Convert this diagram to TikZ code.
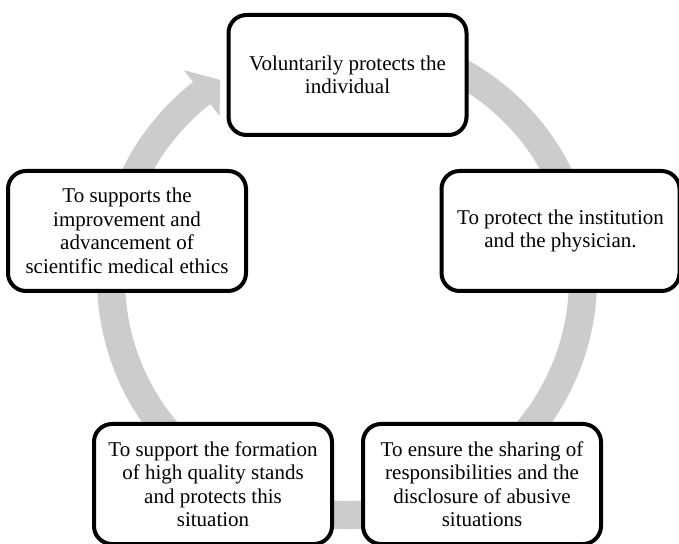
\documentclass[tikz,border=0pt]{standalone}
\usepackage{fontspec}
\setmainfont{Liberation Serif}
\usepackage{xcolor}
\usepackage{tikz}

\begin{document}
\begin{tikzpicture}[x=1pt,y=1pt,
  stage/.style={draw,line width=4pt,rounded corners=18pt,fill=white,align=center,
    minimum width=238pt,minimum height=120pt,inner sep=0pt,
    font=\fontsize{21}{23.5}\selectfont}]
  \useasboundingbox (0,0) rectangle (679,543);

  % one continuous ring with its head at the top left
  \fill[gray!40,shift={(347,264)}]
    (105:250) arc[start angle=105,end angle=-232,radius=250]
    -- (-232:265) -- (-237.5:236) -- (-232:207) -- (-232:222)
    arc[start angle=-232,end angle=105,radius=222] -- cycle;

  \node[stage] (indiv) at (347.5,468)
    {Voluntarily protects the\\individual};
  \node[stage] (inst) at (560.5,312)
    {To protect the institution\\and the physician.};
  \node[stage] (share) at (482,59)
    {To ensure the sharing of\\responsibilities and the\\disclosure of abusive\\situations};
  \node[stage] (form) at (213,59)
    {To support the formation\\of high quality stands\\and protects this\\situation};
  \node[stage] (ethics) at (127,312)
    {To supports the\\improvement and\\advancement of\\scientific medical ethics};
\end{tikzpicture}
\end{document}
